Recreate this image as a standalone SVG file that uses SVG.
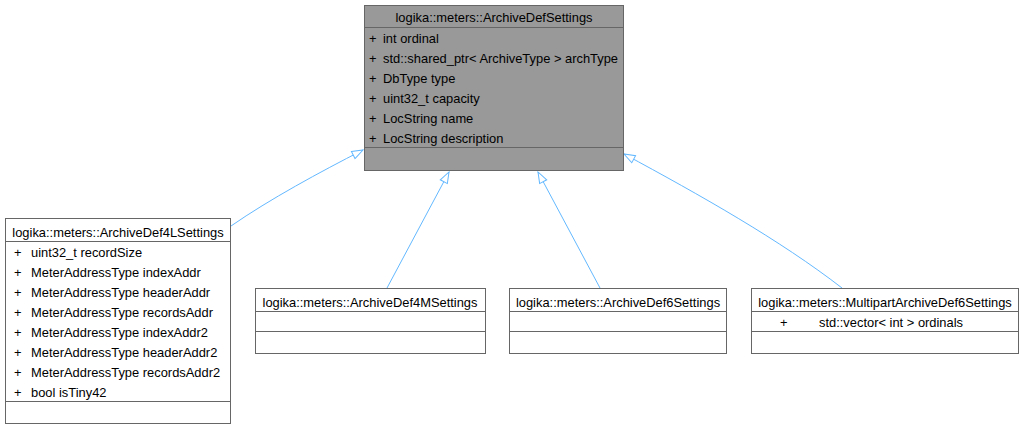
<svg xmlns="http://www.w3.org/2000/svg" width="1024" height="429" viewBox="0 0 1024 429">
  <style>
    text { font-family: "Liberation Sans", Arial, sans-serif; font-size: 12.9px; fill: #000; }
    .t { text-anchor: middle; }
    .box { stroke: #666666; stroke-width: 1; }
    .base { fill: #999999; }
    .child { fill: #ffffff; }
    .sep { stroke: #666666; stroke-width: 1; }
    .edge { fill: none; stroke: #63b8ff; stroke-width: 1; }
  </style>
  <defs>
    <marker id="inherit" viewBox="0 0 13 10" refX="12" refY="5" markerWidth="13" markerHeight="10" markerUnits="userSpaceOnUse" orient="auto">
      <path d="M1,1 L12,5 L1,9 Z" fill="#ffffff" stroke="#63b8ff" stroke-width="1"/>
    </marker>
  </defs>
  <rect width="1024" height="429" fill="#ffffff"/>

  <!-- inheritance connectors -->
  <g id="edges">
    <path class="edge" d="M231,226 C270,199 320,172 363,150" marker-end="url(#inherit)"/>
    <path class="edge" d="M387,288 L449,172" marker-end="url(#inherit)"/>
    <path class="edge" d="M600,288 L538,172" marker-end="url(#inherit)"/>
    <path class="edge" d="M842,288 C780,240 700,195 624,154" marker-end="url(#inherit)"/>
  </g>

  <g id="ArchiveDefSettings">
    <rect class="box base" x="364.5" y="5.5" width="259" height="165"/>
    <line class="sep" x1="364.5" y1="27.5" x2="623.5" y2="27.5"/>
    <line class="sep" x1="364.5" y1="147.5" x2="623.5" y2="147.5"/>
    <text class="t" x="494" y="22">logika::meters::ArchiveDefSettings</text>
    <text x="369" y="43">+</text><text x="383" y="43">int ordinal</text>
    <text x="369" y="63">+</text><text x="383" y="63">std::shared_ptr&lt; ArchiveType &gt; archType</text>
    <text x="369" y="83">+</text><text x="383" y="83">DbType type</text>
    <text x="369" y="103">+</text><text x="383" y="103">uint32_t capacity</text>
    <text x="369" y="123">+</text><text x="383" y="123">LocString name</text>
    <text x="369" y="143">+</text><text x="383" y="143">LocString description</text>
  </g>

  <g id="ArchiveDef4LSettings">
    <rect class="box child" x="5.5" y="218.5" width="225" height="205"/>
    <line class="sep" x1="5.5" y1="241.5" x2="230.5" y2="241.5"/>
    <line class="sep" x1="5.5" y1="401.5" x2="230.5" y2="401.5"/>
    <text class="t" x="118" y="237">logika::meters::ArchiveDef4LSettings</text>
    <text x="14" y="257">+</text><text x="31" y="257">uint32_t recordSize</text>
    <text x="14" y="277">+</text><text x="31" y="277">MeterAddressType indexAddr</text>
    <text x="14" y="297">+</text><text x="31" y="297">MeterAddressType headerAddr</text>
    <text x="14" y="317">+</text><text x="31" y="317">MeterAddressType recordsAddr</text>
    <text x="14" y="337">+</text><text x="31" y="337">MeterAddressType indexAddr2</text>
    <text x="14" y="357">+</text><text x="31" y="357">MeterAddressType headerAddr2</text>
    <text x="14" y="377">+</text><text x="31" y="377">MeterAddressType recordsAddr2</text>
    <text x="14" y="397">+</text><text x="31" y="397">bool isTiny42</text>
  </g>

  <g id="ArchiveDef4MSettings">
    <rect class="box child" x="255.5" y="288.5" width="230" height="65"/>
    <line class="sep" x1="255.5" y1="311.5" x2="485.5" y2="311.5"/>
    <line class="sep" x1="255.5" y1="331.5" x2="485.5" y2="331.5"/>
    <text class="t" x="370" y="307">logika::meters::ArchiveDef4MSettings</text>
  </g>

  <g id="ArchiveDef6Settings">
    <rect class="box child" x="509.5" y="288.5" width="217" height="65"/>
    <line class="sep" x1="509.5" y1="311.5" x2="726.5" y2="311.5"/>
    <line class="sep" x1="509.5" y1="331.5" x2="726.5" y2="331.5"/>
    <text class="t" x="618" y="307">logika::meters::ArchiveDef6Settings</text>
  </g>

  <g id="MultipartArchiveDef6Settings">
    <rect class="box child" x="751.5" y="288.5" width="267" height="65"/>
    <line class="sep" x1="751.5" y1="311.5" x2="1018.5" y2="311.5"/>
    <line class="sep" x1="751.5" y1="331.5" x2="1018.5" y2="331.5"/>
    <text class="t" x="885" y="307">logika::meters::MultipartArchiveDef6Settings</text>
    <text x="780" y="327">+</text><text x="819" y="327">std::vector&lt; int &gt; ordinals</text>
  </g>
</svg>
